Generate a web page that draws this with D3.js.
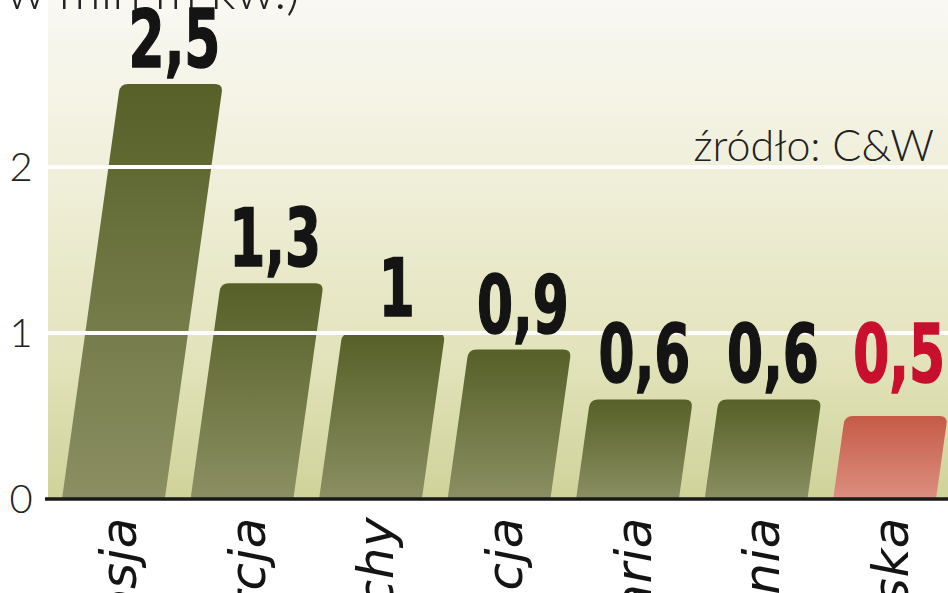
<!DOCTYPE html>
<html>
<head>
<meta charset="utf-8">
<script src="https://cdn.jsdelivr.net/npm/d3@7"></script>
<style>
  html, body { margin: 0; padding: 0; background: #fff; }
  svg { display: block; }
</style>
</head>
<body>
<div id="chart"></div>
<script>
'use strict'

// values (mln m kw.)
const countries = ['Rosja', 'Turcja', 'Włochy', 'Francja', 'Bułgaria', 'Rumunia', 'Polska']
const values = [2.5, 1.3, 1, 0.9, 0.6, 0.6, 0.5]
const yTicks = [0, 1, 2]
const highlighted = ['Polska']
const unitText = 'w mln m kw.)'
const sourceText = 'źródło: C&W'

const width = 948
const height = 593
const plotLeft = 48
const slope = 0.14 // bars lean to the right
const cornerRadius = 8

const plPL = d3.formatLocale({ decimal: ',', thousands: ' ', grouping: [3], currency: ['', ' zł'] })
const fmt = v => plPL.format('~r')(v)

const svg = d3.select('#chart').append('svg')
  .attr('width', width)
  .attr('height', height)

const x = d3.scaleBand()
  .domain(countries)
  .range([62, 936])
  .paddingInner(0.2)
  .paddingOuter(0)

const y = d3.scaleLinear()
  .domain([0, 2.5])
  .range([499, 84])

const defs = svg.append('defs')

const bg = defs.append('linearGradient')
  .attr('id', 'bg-grad')
  .attr('x1', 0).attr('y1', 0).attr('x2', 0).attr('y2', 1)
bg.append('stop').attr('offset', '0%').attr('stop-color', '#f9f8f3')
bg.append('stop').attr('offset', '35%').attr('stop-color', '#f0efda')
bg.append('stop').attr('offset', '70%').attr('stop-color', '#e3e4bd')
bg.append('stop').attr('offset', '100%').attr('stop-color', '#cfd399')

const green = defs.append('linearGradient')
  .attr('id', 'bar-green')
  .attr('x1', 0).attr('y1', 0).attr('x2', 0).attr('y2', 1)
green.append('stop').attr('offset', '0%').attr('stop-color', '#566027')
green.append('stop').attr('offset', '100%').attr('stop-color', '#8b8f63')

const red = defs.append('linearGradient')
  .attr('id', 'bar-red')
  .attr('x1', 0).attr('y1', 0).attr('x2', 0).attr('y2', 1)
red.append('stop').attr('offset', '0%').attr('stop-color', '#c55b47')
red.append('stop').attr('offset', '100%').attr('stop-color', '#dc8f80')

// plot background
svg.append('rect')
  .attr('x', plotLeft)
  .attr('y', 0)
  .attr('width', width - plotLeft)
  .attr('height', y(0))
  .attr('fill', 'url(#bg-grad)')

// unit line, mostly cut off at the top
svg.append('text')
  .attr('x', 6)
  .attr('y', 9)
  .style('font-family', 'Lato, "Open Sans", sans-serif')
  .style('font-weight', 300)
  .style('font-size', '52px')
  .attr('fill', '#222')
  .text(unitText)

const barPath = (name, v) => {
  const x0 = x(name)
  const w = x.bandwidth()
  const y0 = y(0)
  const yt = y(v)
  const h = y0 - yt
  const xtl = x0 + slope * h
  const xtr = xtl + w
  const r = cornerRadius
  return `M${x0},${y0}` +
    `L${xtl - slope * r},${yt + r}` +
    `Q${xtl},${yt} ${xtl + r},${yt}` +
    `L${xtr - r},${yt}` +
    `Q${xtr},${yt} ${xtr - slope * r},${yt + r}` +
    `L${x0 + w},${y0}Z`
}

const bars = countries.map((c, i) => ({ name: c, value: values[i], hot: highlighted.includes(c) }))

svg.append('g')
  .classed('bars', true)
  .selectAll('path')
  .data(bars)
  .enter()
  .append('path')
  .attr('d', d => barPath(d.name, d.value))
  .attr('fill', d => d.hot ? 'url(#bar-red)' : 'url(#bar-green)')

// white gridlines sit over the bars
svg.append('g')
  .selectAll('line')
  .data(yTicks.filter(t => t > 0))
  .enter()
  .append('line')
  .attr('x1', plotLeft)
  .attr('x2', width)
  .attr('y1', d => y(d))
  .attr('y2', d => y(d))
  .attr('stroke', '#fff')
  .attr('stroke-width', 4)

// baseline
svg.append('line')
  .attr('x1', 45)
  .attr('x2', width)
  .attr('y1', y(0))
  .attr('y2', y(0))
  .attr('stroke', '#1a1a1a')
  .attr('stroke-width', 3.5)

// y tick labels
svg.append('g')
  .selectAll('text')
  .data(yTicks)
  .enter()
  .append('text')
  .attr('x', 21)
  .attr('y', d => y(d))
  .attr('dy', '0.36em')
  .attr('text-anchor', 'middle')
  .style('font-family', 'Lato, "Open Sans", sans-serif')
  .style('font-weight', 300)
  .style('font-size', '40px')
  .attr('fill', '#222')
  .text(d => d)

// source note
svg.append('text')
  .attr('x', 934)
  .attr('y', 161)
  .attr('text-anchor', 'end')
  .style('font-family', 'Lato, "Open Sans", sans-serif')
  .style('font-weight', 300)
  .style('font-size', '43px')
  .attr('fill', '#222')
  .text(sourceText)

// value labels above each bar top, squeezed to a condensed look
svg.append('g')
  .selectAll('text')
  .data(bars)
  .enter()
  .append('text')
  .attr('transform', d => {
    const cx = x(d.name) + slope * (y(0) - y(d.value)) + x.bandwidth() / 2 + 3
    const cy = y(d.value) - (d.hot ? 34 : 17)
    return `translate(${cx},${cy}) scale(0.72,1)`
  })
  .attr('text-anchor', 'middle')
  .style('font-family', '"DejaVu Sans Condensed", "DejaVu Sans", sans-serif')
  .style('font-weight', 700)
  .style('font-size', '80px')
  .attr('fill', d => d.hot ? '#c8102e' : '#141414')
  .attr('stroke', d => d.hot ? '#c8102e' : '#141414')
  .attr('stroke-width', 1.5)
  .text(d => fmt(d.value))

// country names, rotated and running off the bottom
svg.append('g')
  .selectAll('text')
  .data(bars)
  .enter()
  .append('text')
  .attr('transform', d => `translate(${x(d.name) + x.bandwidth() / 2 + 23},517) rotate(-90)`)
  .attr('text-anchor', 'end')
  .style('font-family', '"DejaVu Sans", sans-serif')
  .style('font-style', 'oblique')
  .style('font-size', '50px')
  .style('letter-spacing', '0.5px')
  .attr('fill', '#141414')
  .text(d => d.name)
</script>
</body>
</html>
